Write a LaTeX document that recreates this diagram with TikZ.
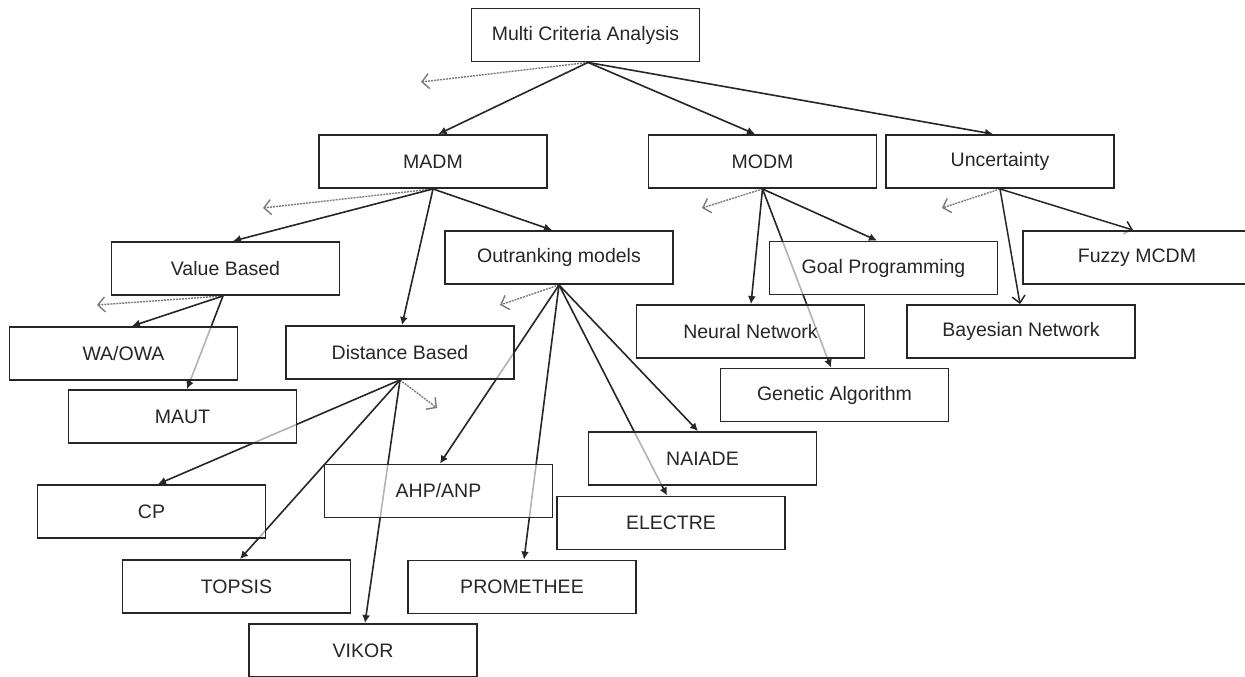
\documentclass[tikz,border=0pt]{standalone}
\usepackage{fontspec}
\setmainfont{Liberation Sans}
\usetikzlibrary{arrows.meta,backgrounds}
\definecolor{ink}{HTML}{262626}
\definecolor{dashgray}{HTML}{7A7A7A}
\tikzset{
  box/.style={draw=ink, line width=1.9pt, fill=white, fill opacity=0.65, draw opacity=1, text opacity=1,
    minimum width=228pt, minimum height=53pt, inner sep=0pt, text=ink, font=\fontsize{19.5}{23}\selectfont},
  arr/.style={draw=ink, line width=1.6pt, -{Latex[length=8pt,width=8pt]}},
  barb/.style={draw=ink, line width=1.5pt, -{Straight Barb[length=7pt,width=13pt]}},
  dsh/.style={draw=dashgray, line width=1.4pt, dash pattern=on 2pt off 1pt, -{Straight Barb[length=7pt,width=15pt]}},
}
\begin{document}
\begin{tikzpicture}[x=1pt,y=-1pt]
\useasboundingbox (0,0) rectangle (1245,677);
% boxes
\node[box] (mca) at (585.5,35) {Multi Criteria Analysis};
\node[box] (madm) at (433,161.5) {MADM};
\node[box] (modm) at (762.5,161.5) {MODM};
\node[box] (unc) at (1000,161.5) {Uncertainty};
\node[box] (vb) at (225.5,268.5) {Value Based};
\node[box] (or) at (559,257.5) {Outranking models};
\node[box] (gp) at (883.5,268) {Goal Programming};
\node[box] (fm) at (1137,257.5) {Fuzzy MCDM};
\node[box] (nn) at (750.5,331.5) {Neural Network};
\node[box] (bn) at (1021,331.5) {Bayesian Network};
\node[box] (wa) at (123.5,353.5) {WA/OWA};
\node[box] (db) at (400,352.5) {Distance Based};
\node[box] (maut) at (182.5,416.5) {MAUT};
\node[box] (ga) at (834.5,395) {Genetic Algorithm};
\node[box] (naiade) at (702.5,458.5) {NAIADE};
\node[box] (ahp) at (438.5,491) {AHP/ANP};
\node[box] (cp) at (151.5,511.5) {CP};
\node[box] (electre) at (671,523) {ELECTRE};
\node[box] (topsis) at (236.5,586.5) {TOPSIS};
\node[box] (prom) at (522,587) {PROMETHEE};
\node[box] (vikor) at (363,650.5) {VIKOR};
% free ends of the dashed arrows
\coordinate (dmca) at (421,82);
\coordinate (dmadm) at (263,208);
\coordinate (dmodm) at (702,208);
\coordinate (dunc) at (942,208);
\coordinate (dvb) at (97,305);
\coordinate (dor) at (500,305);
\coordinate (ddb) at (437,408);
\begin{scope}[on background layer]
% dashed
\draw[dsh] ([xshift=2.5pt]mca.south) -- (dmca);
\draw[dsh] (madm.south) -- (dmadm);
\draw[dsh] (modm.south) -- (dmodm);
\draw[dsh] (unc.south) -- (dunc);
\draw[dsh] ([xshift=-2.5pt]vb.south) -- (dvb);
\draw[dsh] (or.south) -- (dor);
\draw[dsh] (db.south) -- (ddb);
% MCA
\draw[arr] ([xshift=2.5pt]mca.south) -- ([xshift=5.5pt]madm.north);
\draw[arr] ([xshift=2.5pt]mca.south) -- ([xshift=-7.5pt]modm.north);
\draw[arr] ([xshift=2.5pt]mca.south) -- ([xshift=-7pt]unc.north);
% MADM
\draw[arr] (madm.south) -- ([xshift=7.5pt]vb.north);
\draw[arr] (madm.south) -- ([xshift=2pt]db.north);
\draw[arr] (madm.south) -- ([xshift=-7pt]or.north);
% MODM
\draw[arr] (modm.south) -- ([xshift=0.5pt]nn.north);
\draw[arr] (modm.south) -- ([xshift=-6.5pt]gp.north);
\draw[arr] (modm.south) -- ([xshift=-3.5pt]ga.north);
% Uncertainty
\draw[barb] (unc.south) -- ([xshift=-1pt]bn.north);
\draw[barb] (unc.south) -- ([xshift=-4pt]fm.north);
% Value Based
\draw[arr] ([xshift=-2.5pt]vb.south) -- ([xshift=8.5pt]wa.north);
\draw[arr] ([xshift=-2.5pt]vb.south) -- ([xshift=4.5pt]maut.north);
% Distance Based
\draw[arr] (db.south) -- ([xshift=6.5pt]cp.north);
\draw[arr] (db.south) -- ([xshift=3.5pt]topsis.north);
\draw[arr] (db.south) -- ([xshift=2pt]vikor.north);
% Outranking
\draw[arr] (or.south) -- ([xshift=1.5pt]ahp.north);
\draw[arr] (or.south) -- ([xshift=2pt]prom.north);
\draw[arr] (or.south) -- ([xshift=-4pt]electre.north);
\draw[arr] (or.south) -- ([xshift=-4.5pt]naiade.north);
\end{scope}
\end{tikzpicture}
\end{document}
